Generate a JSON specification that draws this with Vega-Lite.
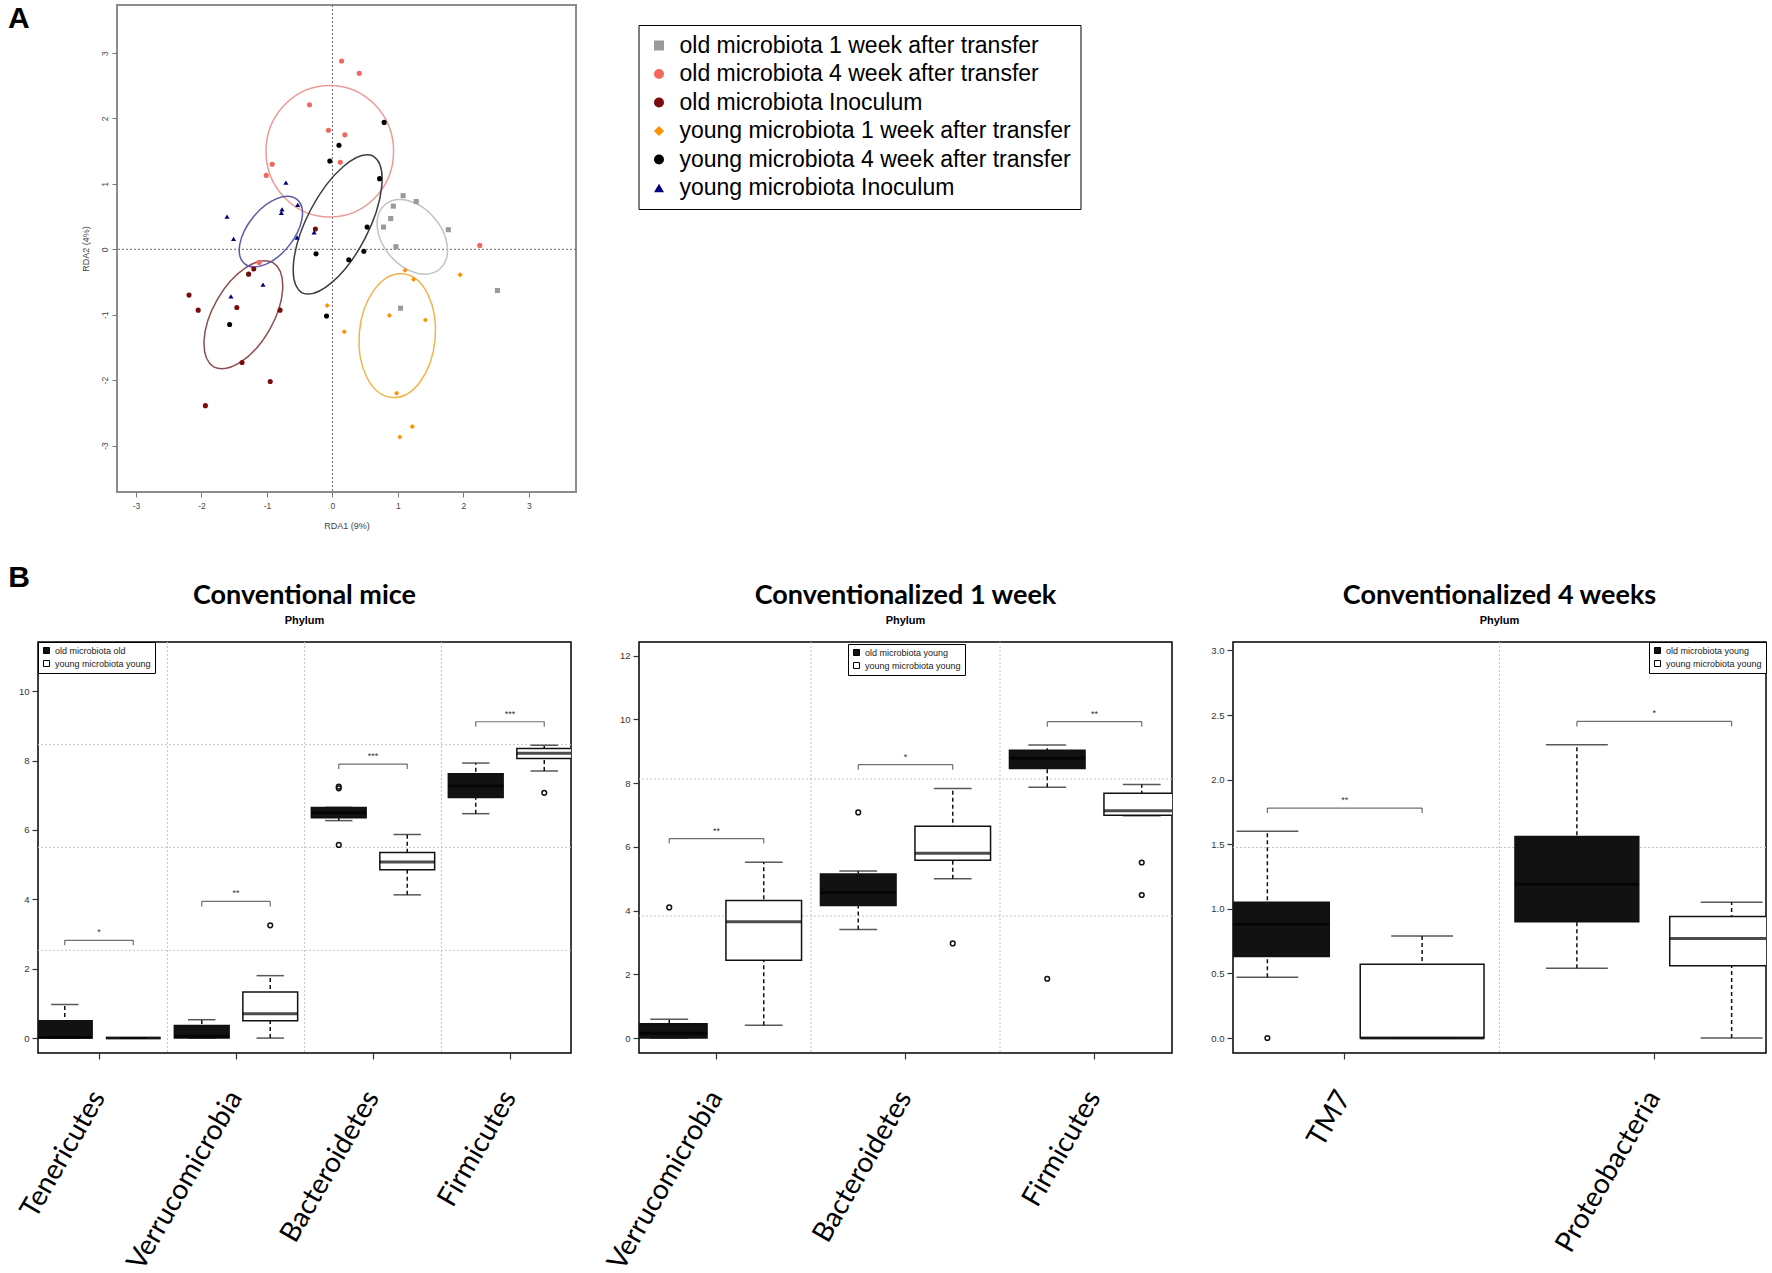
{
"$schema": "https://vega.github.io/schema/vega-lite/v6.json",
"background": "white",
"padding": {"left": 4, "top": 3, "right": 0, "bottom": 0},
"spacing": 30,
"config": {
  "view": {"stroke": null},
  "font": "Liberation Sans",
  "title": {"font": "Lato", "fontSize": 27, "fontWeight": "bold", "color": "black", "subtitleFont": "Liberation Sans", "subtitleFontSize": 11, "subtitleFontWeight": "bold", "subtitleColor": "black", "subtitlePadding": 5, "offset": 15, "anchor": "middle", "frame": "group"},
  "axis": {"labelFont": "Liberation Sans", "titleFont": "Liberation Sans", "grid": false},
  "legend": {"labelFont": "Liberation Sans"}
},
"datasets": {
  "rda": [
    {"group": "old microbiota 1 week after transfer", "rda1": 1.08, "rda2": 0.82},
    {"group": "old microbiota 1 week after transfer", "rda1": 1.28, "rda2": 0.73},
    {"group": "old microbiota 1 week after transfer", "rda1": 0.93, "rda2": 0.66},
    {"group": "old microbiota 1 week after transfer", "rda1": 0.89, "rda2": 0.47},
    {"group": "old microbiota 1 week after transfer", "rda1": 0.78, "rda2": 0.34},
    {"group": "old microbiota 1 week after transfer", "rda1": 1.77, "rda2": 0.30},
    {"group": "old microbiota 1 week after transfer", "rda1": 0.97, "rda2": 0.04},
    {"group": "old microbiota 1 week after transfer", "rda1": 2.52, "rda2": -0.63},
    {"group": "old microbiota 1 week after transfer", "rda1": 1.04, "rda2": -0.90},
    {"group": "old microbiota 4 week after transfer", "rda1": 0.14, "rda2": 2.88},
    {"group": "old microbiota 4 week after transfer", "rda1": 0.41, "rda2": 2.69},
    {"group": "old microbiota 4 week after transfer", "rda1": -0.35, "rda2": 2.21},
    {"group": "old microbiota 4 week after transfer", "rda1": -0.06, "rda2": 1.82},
    {"group": "old microbiota 4 week after transfer", "rda1": 0.19, "rda2": 1.75},
    {"group": "old microbiota 4 week after transfer", "rda1": 0.12, "rda2": 1.33},
    {"group": "old microbiota 4 week after transfer", "rda1": -0.92, "rda2": 1.30},
    {"group": "old microbiota 4 week after transfer", "rda1": -1.01, "rda2": 1.13},
    {"group": "old microbiota 4 week after transfer", "rda1": -1.12, "rda2": -0.20},
    {"group": "old microbiota 4 week after transfer", "rda1": 2.25, "rda2": 0.06},
    {"group": "old microbiota Inoculum", "rda1": -0.26, "rda2": 0.31},
    {"group": "old microbiota Inoculum", "rda1": -1.20, "rda2": -0.30},
    {"group": "old microbiota Inoculum", "rda1": -1.28, "rda2": -0.38},
    {"group": "old microbiota Inoculum", "rda1": -2.19, "rda2": -0.70},
    {"group": "old microbiota Inoculum", "rda1": -2.05, "rda2": -0.93},
    {"group": "old microbiota Inoculum", "rda1": -1.46, "rda2": -0.89},
    {"group": "old microbiota Inoculum", "rda1": -0.80, "rda2": -0.93},
    {"group": "old microbiota Inoculum", "rda1": -1.38, "rda2": -1.73},
    {"group": "old microbiota Inoculum", "rda1": -0.95, "rda2": -2.02},
    {"group": "old microbiota Inoculum", "rda1": -1.94, "rda2": -2.39},
    {"group": "young microbiota 1 week after transfer", "rda1": 1.11, "rda2": -0.32},
    {"group": "young microbiota 1 week after transfer", "rda1": 1.24, "rda2": -0.46},
    {"group": "young microbiota 1 week after transfer", "rda1": 1.95, "rda2": -0.39},
    {"group": "young microbiota 1 week after transfer", "rda1": -0.08, "rda2": -0.86},
    {"group": "young microbiota 1 week after transfer", "rda1": 0.87, "rda2": -1.01},
    {"group": "young microbiota 1 week after transfer", "rda1": 1.42, "rda2": -1.08},
    {"group": "young microbiota 1 week after transfer", "rda1": 0.18, "rda2": -1.26},
    {"group": "young microbiota 1 week after transfer", "rda1": 0.98, "rda2": -2.20},
    {"group": "young microbiota 1 week after transfer", "rda1": 1.22, "rda2": -2.71},
    {"group": "young microbiota 1 week after transfer", "rda1": 1.03, "rda2": -2.87},
    {"group": "young microbiota 4 week after transfer", "rda1": 0.79, "rda2": 1.94},
    {"group": "young microbiota 4 week after transfer", "rda1": 0.10, "rda2": 1.59},
    {"group": "young microbiota 4 week after transfer", "rda1": -0.04, "rda2": 1.35},
    {"group": "young microbiota 4 week after transfer", "rda1": 0.72, "rda2": 1.08},
    {"group": "young microbiota 4 week after transfer", "rda1": 0.53, "rda2": 0.34},
    {"group": "young microbiota 4 week after transfer", "rda1": -0.25, "rda2": -0.07},
    {"group": "young microbiota 4 week after transfer", "rda1": 0.25, "rda2": -0.16},
    {"group": "young microbiota 4 week after transfer", "rda1": 0.48, "rda2": -0.03},
    {"group": "young microbiota 4 week after transfer", "rda1": -0.09, "rda2": -1.02},
    {"group": "young microbiota 4 week after transfer", "rda1": -1.57, "rda2": -1.15},
    {"group": "young microbiota Inoculum", "rda1": -0.71, "rda2": 1.02},
    {"group": "young microbiota Inoculum", "rda1": -1.61, "rda2": 0.50},
    {"group": "young microbiota Inoculum", "rda1": -0.77, "rda2": 0.61},
    {"group": "young microbiota Inoculum", "rda1": -0.78, "rda2": 0.56},
    {"group": "young microbiota Inoculum", "rda1": -0.53, "rda2": 0.68},
    {"group": "young microbiota Inoculum", "rda1": -1.51, "rda2": 0.16},
    {"group": "young microbiota Inoculum", "rda1": -0.54, "rda2": 0.18},
    {"group": "young microbiota Inoculum", "rda1": -0.28, "rda2": 0.26},
    {"group": "young microbiota Inoculum", "rda1": -1.06, "rda2": -0.54},
    {"group": "young microbiota Inoculum", "rda1": -1.55, "rda2": -0.72}
  ],
  "ellipses": [
    {"group": "old microbiota 1 week after transfer", "cx": 1.22, "cy": 0.19},
    {"group": "old microbiota 4 week after transfer", "cx": -0.04, "cy": 1.50},
    {"group": "old microbiota Inoculum", "cx": -1.36, "cy": -1.00},
    {"group": "young microbiota 1 week after transfer", "cx": 0.99, "cy": -1.32},
    {"group": "young microbiota 4 week after transfer", "cx": 0.08, "cy": 0.38},
    {"group": "young microbiota Inoculum", "cx": -0.94, "cy": 0.27}
  ],
  "boxes": [
    {"panel": "Conventional mice", "phylum": "Tenericutes", "group": "old microbiota old", "lower": 0, "q1": 0, "median": 0.02, "q3": 0.5, "upper": 0.97},
    {"panel": "Conventional mice", "phylum": "Tenericutes", "group": "young microbiota young", "lower": 0, "q1": 0, "median": 0, "q3": 0, "upper": 0},
    {"panel": "Conventional mice", "phylum": "Verrucomicrobia", "group": "old microbiota old", "lower": 0, "q1": 0, "median": 0.05, "q3": 0.36, "upper": 0.53},
    {"panel": "Conventional mice", "phylum": "Verrucomicrobia", "group": "young microbiota young", "lower": 0, "q1": 0.5, "median": 0.7, "q3": 1.33, "upper": 1.8},
    {"panel": "Conventional mice", "phylum": "Bacteroidetes", "group": "old microbiota old", "lower": 6.27, "q1": 6.35, "median": 6.5, "q3": 6.65, "upper": 6.65},
    {"panel": "Conventional mice", "phylum": "Bacteroidetes", "group": "young microbiota young", "lower": 4.13, "q1": 4.85, "median": 5.08, "q3": 5.35, "upper": 5.87},
    {"panel": "Conventional mice", "phylum": "Firmicutes", "group": "old microbiota old", "lower": 6.47, "q1": 6.94, "median": 7.27, "q3": 7.62, "upper": 7.93},
    {"panel": "Conventional mice", "phylum": "Firmicutes", "group": "young microbiota young", "lower": 7.7, "q1": 8.06, "median": 8.21, "q3": 8.35, "upper": 8.44},
    {"panel": "Conventionalized 1 week", "phylum": "Verrucomicrobia", "group": "old microbiota young", "lower": 0, "q1": 0, "median": 0.15, "q3": 0.45, "upper": 0.59},
    {"panel": "Conventionalized 1 week", "phylum": "Verrucomicrobia", "group": "young microbiota young", "lower": 0.4, "q1": 2.44, "median": 3.65, "q3": 4.32, "upper": 5.52},
    {"panel": "Conventionalized 1 week", "phylum": "Bacteroidetes", "group": "old microbiota young", "lower": 3.41, "q1": 4.16, "median": 4.57, "q3": 5.15, "upper": 5.24},
    {"panel": "Conventionalized 1 week", "phylum": "Bacteroidetes", "group": "young microbiota young", "lower": 5.0, "q1": 5.58, "median": 5.8, "q3": 6.65, "upper": 7.83},
    {"panel": "Conventionalized 1 week", "phylum": "Firmicutes", "group": "old microbiota young", "lower": 7.87, "q1": 8.46, "median": 8.78, "q3": 9.03, "upper": 9.2},
    {"panel": "Conventionalized 1 week", "phylum": "Firmicutes", "group": "young microbiota young", "lower": 6.98, "q1": 6.99, "median": 7.13, "q3": 7.68, "upper": 7.96},
    {"panel": "Conventionalized 4 weeks", "phylum": "TM7", "group": "old microbiota young", "lower": 0.47, "q1": 0.63, "median": 0.88, "q3": 1.05, "upper": 1.6},
    {"panel": "Conventionalized 4 weeks", "phylum": "TM7", "group": "young microbiota young", "lower": 0, "q1": 0, "median": 0, "q3": 0.57, "upper": 0.79},
    {"panel": "Conventionalized 4 weeks", "phylum": "Proteobacteria", "group": "old microbiota young", "lower": 0.54, "q1": 0.9, "median": 1.19, "q3": 1.56, "upper": 2.27},
    {"panel": "Conventionalized 4 weeks", "phylum": "Proteobacteria", "group": "young microbiota young", "lower": 0, "q1": 0.56, "median": 0.77, "q3": 0.94, "upper": 1.05}
  ],
  "outliers": [
    {"panel": "Conventional mice", "phylum": "Verrucomicrobia", "group": "young microbiota young", "value": 3.25},
    {"panel": "Conventional mice", "phylum": "Bacteroidetes", "group": "old microbiota old", "value": 7.2},
    {"panel": "Conventional mice", "phylum": "Bacteroidetes", "group": "old microbiota old", "value": 7.25},
    {"panel": "Conventional mice", "phylum": "Bacteroidetes", "group": "old microbiota old", "value": 5.57},
    {"panel": "Conventional mice", "phylum": "Firmicutes", "group": "young microbiota young", "value": 7.07},
    {"panel": "Conventionalized 1 week", "phylum": "Verrucomicrobia", "group": "old microbiota young", "value": 4.1},
    {"panel": "Conventionalized 1 week", "phylum": "Bacteroidetes", "group": "old microbiota young", "value": 7.08},
    {"panel": "Conventionalized 1 week", "phylum": "Bacteroidetes", "group": "young microbiota young", "value": 2.97},
    {"panel": "Conventionalized 1 week", "phylum": "Firmicutes", "group": "old microbiota young", "value": 1.86},
    {"panel": "Conventionalized 1 week", "phylum": "Firmicutes", "group": "young microbiota young", "value": 5.51},
    {"panel": "Conventionalized 1 week", "phylum": "Firmicutes", "group": "young microbiota young", "value": 4.49},
    {"panel": "Conventionalized 4 weeks", "phylum": "TM7", "group": "old microbiota young", "value": 0}
  ],
  "brackets": [
    {"panel": "Conventional mice", "phylum": "Tenericutes", "h": 2.82, "label": "*"},
    {"panel": "Conventional mice", "phylum": "Verrucomicrobia", "h": 3.94, "label": "**"},
    {"panel": "Conventional mice", "phylum": "Bacteroidetes", "h": 7.90, "label": "***"},
    {"panel": "Conventional mice", "phylum": "Firmicutes", "h": 9.12, "label": "***"},
    {"panel": "Conventionalized 1 week", "phylum": "Verrucomicrobia", "h": 6.26, "label": "**"},
    {"panel": "Conventionalized 1 week", "phylum": "Bacteroidetes", "h": 8.58, "label": "*"},
    {"panel": "Conventionalized 1 week", "phylum": "Firmicutes", "h": 9.93, "label": "**"},
    {"panel": "Conventionalized 4 weeks", "phylum": "TM7", "h": 1.78, "label": "**"},
    {"panel": "Conventionalized 4 weeks", "phylum": "Proteobacteria", "h": 2.45, "label": "*"}
  ]
},
"vconcat": [
  {
    "title": {"text": "A", "orient": "top", "anchor": "start", "frame": "bounds", "align": "left", "baseline": "top", "fontSize": 30, "fontWeight": "bold", "font": "Liberation Sans", "offset": -29, "dx": -30, "dy": 1, "color": "black"},
    "spacing": 0,
    "hconcat": [
      {"width": 42, "height": 10, "data": {"values": []}, "mark": "point"},
      {
        "width": 459, "height": 487,
        "view": {"stroke": "#8c8c8c", "strokeWidth": 2},
        "layer": [
          {"data": {"values": [{}]}, "mark": {"type": "rule", "strokeDash": [2, 2], "color": "#666666", "strokeWidth": 1}, "encoding": {"x": {"datum": 0, "type": "quantitative"}}},
          {"data": {"values": [{}]}, "mark": {"type": "rule", "strokeDash": [2, 2], "color": "#666666", "strokeWidth": 1}, "encoding": {"y": {"datum": 0, "type": "quantitative"}}},
          {"data": {"name": "ellipses"}, "transform": [{"filter": "datum.group === 'old microbiota 1 week after transfer'"}], "mark": {"type": "point", "filled": false, "size": 4, "strokeWidth": 1.5, "opacity": 1, "color": "#c2c2c2", "shape": "M 27.4 32.1 A 42.2 29.1 49.5 0 1 -27.4 -32.1 A 42.2 29.1 49.5 0 1 27.4 32.1 Z"}, "encoding": {"x": {"field": "cx", "type": "quantitative"}, "y": {"field": "cy", "type": "quantitative"}}},
          {"data": {"name": "ellipses"}, "transform": [{"filter": "datum.group === 'old microbiota 4 week after transfer'"}], "mark": {"type": "point", "filled": false, "size": 4, "strokeWidth": 1.5, "opacity": 1, "color": "#eb9c98", "shape": "M 0 -65.8 A 65.8 63.8 -90 0 1 0 65.8 A 65.8 63.8 -90 0 1 0 -65.8 Z"}, "encoding": {"x": {"field": "cx", "type": "quantitative"}, "y": {"field": "cy", "type": "quantitative"}}},
          {"data": {"name": "ellipses"}, "transform": [{"filter": "datum.group === 'old microbiota Inoculum'"}], "mark": {"type": "point", "filled": false, "size": 4, "strokeWidth": 1.5, "opacity": 1, "color": "#8e4d4d", "shape": "M 29.7 -52.1 A 60 31.2 -60.3 0 1 -29.7 52.1 A 60 31.2 -60.3 0 1 29.7 -52.1 Z"}, "encoding": {"x": {"field": "cx", "type": "quantitative"}, "y": {"field": "cy", "type": "quantitative"}}},
          {"data": {"name": "ellipses"}, "transform": [{"filter": "datum.group === 'young microbiota 1 week after transfer'"}], "mark": {"type": "point", "filled": false, "size": 4, "strokeWidth": 1.5, "opacity": 1, "color": "#f0b44a", "shape": "M 5.4 -61.8 A 62 38 -85 0 1 -5.4 61.8 A 62 38 -85 0 1 5.4 -61.8 Z"}, "encoding": {"x": {"field": "cx", "type": "quantitative"}, "y": {"field": "cy", "type": "quantitative"}}},
          {"data": {"name": "ellipses"}, "transform": [{"filter": "datum.group === 'young microbiota 4 week after transfer'"}], "mark": {"type": "point", "filled": false, "size": 4, "strokeWidth": 1.5, "opacity": 1, "color": "#3c3c3c", "shape": "M 35.5 -68.4 A 77.1 31.7 -62.6 0 1 -35.5 68.4 A 77.1 31.7 -62.6 0 1 35.5 -68.4 Z"}, "encoding": {"x": {"field": "cx", "type": "quantitative"}, "y": {"field": "cy", "type": "quantitative"}}},
          {"data": {"name": "ellipses"}, "transform": [{"filter": "datum.group === 'young microbiota Inoculum'"}], "mark": {"type": "point", "filled": false, "size": 4, "strokeWidth": 1.5, "opacity": 1, "color": "#5a5aa8", "shape": "M 26.1 -32.2 A 41.4 22.9 -51 0 1 -26.1 32.2 A 41.4 22.9 -51 0 1 26.1 -32.2 Z"}, "encoding": {"x": {"field": "cx", "type": "quantitative"}, "y": {"field": "cy", "type": "quantitative"}}},
          {"data": {"name": "rda"}, "mark": {"type": "point", "filled": true, "opacity": 1, "size": 26},
           "encoding": {
             "x": {"field": "rda1", "type": "quantitative", "scale": {"domain": [-3.29, 3.72], "nice": false, "zero": false},
                   "axis": {"values": [-3, -2, -1, 0, 1, 2, 3], "labelExpr": "datum.value + ''", "title": "RDA1 (9%)", "titleFontSize": 9, "titleFontWeight": "normal", "titleColor": "#444444", "titlePadding": 12, "labelFontSize": 8.5, "labelColor": "#444444", "tickSize": 5, "tickColor": "#777777", "domain": false, "labelPadding": 4}},
             "y": {"field": "rda2", "type": "quantitative", "scale": {"domain": [-3.71, 3.735], "nice": false, "zero": false},
                   "axis": {"values": [-3, -2, -1, 0, 1, 2, 3], "labelExpr": "datum.value + ''", "title": "RDA2 (4%)", "titleFontSize": 9, "titleFontWeight": "normal", "titleColor": "#444444", "titlePadding": 10, "labelFontSize": 8.5, "labelColor": "#444444", "labelAngle": -90, "labelAlign": "center", "labelBaseline": "bottom", "tickSize": 5, "tickColor": "#777777", "domain": false, "labelPadding": 3}},
             "color": {"field": "group", "type": "nominal",
                       "scale": {"domain": ["old microbiota 1 week after transfer", "old microbiota 4 week after transfer", "old microbiota Inoculum", "young microbiota 1 week after transfer", "young microbiota 4 week after transfer", "young microbiota Inoculum"], "range": ["#9a9a9a", "#f4675f", "#7a0b0b", "#ff9100", "#000000", "#00007f"]},
                       "legend": {"title": null, "orient": "none", "legendX": 600.5, "legendY": 20, "strokeColor": "black", "fillColor": "white", "padding": 9, "labelFontSize": 23, "labelColor": "black", "labelOffset": 9, "rowPadding": 4.5, "labelLimit": 600, "symbolSize": 100,
                                  "encode": {"legend": {"strokeWidth": {"value": 1.5}}}}},
             "shape": {"field": "group", "type": "nominal", "scale": {"domain": ["old microbiota 1 week after transfer", "old microbiota 4 week after transfer", "old microbiota Inoculum", "young microbiota 1 week after transfer", "young microbiota 4 week after transfer", "young microbiota Inoculum"], "range": ["square", "circle", "circle", "diamond", "circle", "triangle-up"]},
                       "legend": {"title": null, "orient": "none", "legendX": 600.5, "legendY": 20, "strokeColor": "black", "fillColor": "white", "padding": 9, "labelFontSize": 23, "labelColor": "black", "labelOffset": 9, "rowPadding": 4.5, "labelLimit": 600, "symbolSize": 100,
                                  "encode": {"legend": {"strokeWidth": {"value": 1.5}}}}}
           }}
        ]
      }
    ]
  },
  {
    "title": {"text": "B", "orient": "top", "anchor": "start", "frame": "bounds", "align": "left", "baseline": "top", "fontSize": 30, "fontWeight": "bold", "font": "Liberation Sans", "offset": -29, "dx": 4, "dy": -17, "color": "black"},
    "spacing": 0,
    "resolve": {"scale": {"x": "independent", "y": "independent", "fill": "independent", "xOffset": "independent"}, "legend": {"fill": "independent"}},
    "hconcat": [
      {
        "width": 533, "height": 411,
        "view": {"stroke": "black", "strokeWidth": 1.5},
        "title": {"text": "Conventional mice", "subtitle": "Phylum"},
        "layer": [
          {"data": {"name": "brackets"}, "transform": [{"filter": "datum.panel === 'Conventional mice'"}], "mark": {"type": "rule", "clip": true, "strokeDash": [2, 2], "color": "#c4c4c4", "strokeWidth": 1},
           "encoding": {"x": {"field": "phylum", "type": "nominal", "sort": ["Tenericutes", "Verrucomicrobia", "Bacteroidetes", "Firmicutes"], "bandPosition": 0, "axis": {"bandPosition": 0.5}}}},
          {"data": {"values": [{}]}, "mark": {"type": "rule", "strokeDash": [2, 2], "color": "#c4c4c4", "strokeWidth": 1}, "encoding": {"y": {"datum": 2.53, "type": "quantitative"}}},
          {"data": {"values": [{}]}, "mark": {"type": "rule", "strokeDash": [2, 2], "color": "#c4c4c4", "strokeWidth": 1}, "encoding": {"y": {"datum": 5.5, "type": "quantitative"}}},
          {"data": {"values": [{}]}, "mark": {"type": "rule", "strokeDash": [2, 2], "color": "#c4c4c4", "strokeWidth": 1}, "encoding": {"y": {"datum": 8.46, "type": "quantitative"}}},
          {"data": {"name": "boxes"}, "transform": [{"filter": "datum.panel === 'Conventional mice'"}],
           "layer": [
             {"mark": {"type": "rule", "clip": true, "strokeDash": [4, 3], "strokeWidth": 1.5, "color": "#111111"},
              "encoding": {"x": {"field": "phylum", "type": "nominal", "sort": ["Tenericutes", "Verrucomicrobia", "Bacteroidetes", "Firmicutes"]}, "xOffset": {"field": "group", "type": "nominal", "sort": ["old microbiota old", "young microbiota young"]}, "y": {"field": "lower", "type": "quantitative"}, "y2": {"field": "upper"}}},
             {"mark": {"type": "tick", "clip": true, "orient": "horizontal", "size": 27.4, "thickness": 1.5, "color": "#111111"},
              "encoding": {"x": {"field": "phylum", "type": "nominal", "sort": ["Tenericutes", "Verrucomicrobia", "Bacteroidetes", "Firmicutes"]}, "xOffset": {"field": "group", "type": "nominal", "sort": ["old microbiota old", "young microbiota young"]}, "y": {"field": "lower", "type": "quantitative"}}},
             {"mark": {"type": "tick", "clip": true, "orient": "horizontal", "size": 27.4, "thickness": 1.5, "color": "#111111"},
              "encoding": {"x": {"field": "phylum", "type": "nominal", "sort": ["Tenericutes", "Verrucomicrobia", "Bacteroidetes", "Firmicutes"]}, "xOffset": {"field": "group", "type": "nominal", "sort": ["old microbiota old", "young microbiota young"]}, "y": {"field": "upper", "type": "quantitative"}}},
             {"mark": {"type": "bar", "clip": true, "stroke": "#111111", "strokeWidth": 1.5},
              "encoding": {
                "x": {"field": "phylum", "type": "nominal", "sort": ["Tenericutes", "Verrucomicrobia", "Bacteroidetes", "Firmicutes"], "scale": {"range": [-7.5, 540.5], "paddingInner": 0, "paddingOuter": 0},
                      "axis": {"title": null, "labelAngle": -60, "labelAlign": "right", "labelBaseline": "middle", "labelFont": "Lato", "labelFontSize": 28, "labelPadding": 34, "tickSize": 6, "domain": false, "labelColor": "black", "tickColor": "#333333", "tickWidth": 1.2, "labelLimit": 400}},
                "xOffset": {"field": "group", "type": "nominal", "sort": ["old microbiota old", "young microbiota young"], "scale": {"paddingInner": 0.2, "paddingOuter": 0.1}},
                "y": {"field": "q1", "type": "quantitative", "scale": {"domain": [-0.43, 11.42], "nice": false, "zero": false},
                      "axis": {"values": [0, 2, 4, 6, 8, 10], "title": null, "domain": false, "tickSize": 6, "labelFontSize": 9.5, "labelPadding": 3, "labelColor": "#333333", "tickColor": "#333333", "tickWidth": 1.2, "minExtent": 33}},
                "y2": {"field": "q3"},
                "fill": {"field": "group", "type": "nominal", "scale": {"domain": ["old microbiota old", "young microbiota young"], "range": ["#121212", "#ffffff"]},
                         "legend": {"title": null, "orient": "top-left", "offset": 0, "strokeColor": "black", "fillColor": "white", "padding": 4, "labelFontSize": 9, "labelColor": "#222222", "symbolType": "square", "symbolSize": 36, "symbolStrokeColor": "black", "symbolStrokeWidth": 1, "rowPadding": 2, "labelOffset": 4, "encode": {"legend": {"strokeWidth": {"value": 1.5}}}}}
              }},
             {"mark": {"type": "tick", "clip": true, "orient": "horizontal", "size": 54.8, "thickness": 3, "color": "black"},
              "encoding": {"x": {"field": "phylum", "type": "nominal", "sort": ["Tenericutes", "Verrucomicrobia", "Bacteroidetes", "Firmicutes"]}, "xOffset": {"field": "group", "type": "nominal", "sort": ["old microbiota old", "young microbiota young"]}, "y": {"field": "median", "type": "quantitative"}}}
           ]},
          {"data": {"name": "outliers"}, "transform": [{"filter": "datum.panel === 'Conventional mice'"}], "mark": {"type": "point", "shape": "circle", "filled": false, "size": 22, "strokeWidth": 1.5, "color": "#111111", "opacity": 1},
           "encoding": {"x": {"field": "phylum", "type": "nominal", "sort": ["Tenericutes", "Verrucomicrobia", "Bacteroidetes", "Firmicutes"]}, "xOffset": {"field": "group", "type": "nominal", "sort": ["old microbiota old", "young microbiota young"]}, "y": {"field": "value", "type": "quantitative"}}},
          {"data": {"name": "brackets"}, "transform": [{"filter": "datum.panel === 'Conventional mice'"}],
           "layer": [
             {"mark": {"type": "tick", "orient": "horizontal", "size": 68.5, "thickness": 1.2, "color": "#333333"},
              "encoding": {"x": {"field": "phylum", "type": "nominal", "sort": ["Tenericutes", "Verrucomicrobia", "Bacteroidetes", "Firmicutes"]}, "y": {"field": "h", "type": "quantitative"}}},
             {"mark": {"type": "tick", "orient": "vertical", "size": 5, "thickness": 1.2, "color": "#333333", "yOffset": 2.5},
              "encoding": {"x": {"field": "phylum", "type": "nominal", "sort": ["Tenericutes", "Verrucomicrobia", "Bacteroidetes", "Firmicutes"]}, "xOffset": {"datum": "old microbiota old", "type": "nominal"}, "y": {"field": "h", "type": "quantitative"}}},
             {"mark": {"type": "tick", "orient": "vertical", "size": 5, "thickness": 1.2, "color": "#333333", "yOffset": 2.5},
              "encoding": {"x": {"field": "phylum", "type": "nominal", "sort": ["Tenericutes", "Verrucomicrobia", "Bacteroidetes", "Firmicutes"]}, "xOffset": {"datum": "young microbiota young", "type": "nominal"}, "y": {"field": "h", "type": "quantitative"}}},
             {"mark": {"type": "text", "fontSize": 9, "baseline": "bottom", "dy": -3, "color": "#333333"},
              "encoding": {"x": {"field": "phylum", "type": "nominal", "sort": ["Tenericutes", "Verrucomicrobia", "Bacteroidetes", "Firmicutes"]}, "y": {"field": "h", "type": "quantitative"}, "text": {"field": "label"}}}
           ]}
        ]
      },
      {
        "width": 533, "height": 411,
        "view": {"stroke": "black", "strokeWidth": 1.5},
        "title": {"text": "Conventionalized 1 week", "subtitle": "Phylum"},
        "layer": [
          {"data": {"name": "brackets"}, "transform": [{"filter": "datum.panel === 'Conventionalized 1 week'"}], "mark": {"type": "rule", "clip": true, "strokeDash": [2, 2], "color": "#c4c4c4", "strokeWidth": 1},
           "encoding": {"x": {"field": "phylum", "type": "nominal", "sort": ["Verrucomicrobia", "Bacteroidetes", "Firmicutes"], "bandPosition": 0, "axis": {"bandPosition": 0.5}}}},
          {"data": {"values": [{}]}, "mark": {"type": "rule", "strokeDash": [2, 2], "color": "#c4c4c4", "strokeWidth": 1}, "encoding": {"y": {"datum": 3.83, "type": "quantitative"}}},
          {"data": {"values": [{}]}, "mark": {"type": "rule", "strokeDash": [2, 2], "color": "#c4c4c4", "strokeWidth": 1}, "encoding": {"y": {"datum": 8.13, "type": "quantitative"}}},
          {"data": {"name": "boxes"}, "transform": [{"filter": "datum.panel === 'Conventionalized 1 week'"}],
           "layer": [
             {"mark": {"type": "rule", "clip": true, "strokeDash": [4, 3], "strokeWidth": 1.5, "color": "#111111"},
              "encoding": {"x": {"field": "phylum", "type": "nominal", "sort": ["Verrucomicrobia", "Bacteroidetes", "Firmicutes"]}, "xOffset": {"field": "group", "type": "nominal", "sort": ["old microbiota young", "young microbiota young"]}, "y": {"field": "lower", "type": "quantitative"}, "y2": {"field": "upper"}}},
             {"mark": {"type": "tick", "clip": true, "orient": "horizontal", "size": 37.8, "thickness": 1.5, "color": "#111111"},
              "encoding": {"x": {"field": "phylum", "type": "nominal", "sort": ["Verrucomicrobia", "Bacteroidetes", "Firmicutes"]}, "xOffset": {"field": "group", "type": "nominal", "sort": ["old microbiota young", "young microbiota young"]}, "y": {"field": "lower", "type": "quantitative"}}},
             {"mark": {"type": "tick", "clip": true, "orient": "horizontal", "size": 37.8, "thickness": 1.5, "color": "#111111"},
              "encoding": {"x": {"field": "phylum", "type": "nominal", "sort": ["Verrucomicrobia", "Bacteroidetes", "Firmicutes"]}, "xOffset": {"field": "group", "type": "nominal", "sort": ["old microbiota young", "young microbiota young"]}, "y": {"field": "upper", "type": "quantitative"}}},
             {"mark": {"type": "bar", "clip": true, "stroke": "#111111", "strokeWidth": 1.5},
              "encoding": {
                "x": {"field": "phylum", "type": "nominal", "sort": ["Verrucomicrobia", "Bacteroidetes", "Firmicutes"], "scale": {"range": [-17, 550], "paddingInner": 0, "paddingOuter": 0},
                      "axis": {"title": null, "labelAngle": -60, "labelAlign": "right", "labelBaseline": "middle", "labelFont": "Lato", "labelFontSize": 28, "labelPadding": 34, "tickSize": 6, "domain": false, "labelColor": "black", "tickColor": "#333333", "tickWidth": 1.2, "labelLimit": 400}},
                "xOffset": {"field": "group", "type": "nominal", "sort": ["old microbiota young", "young microbiota young"], "scale": {"paddingInner": 0.2, "paddingOuter": 0.1}},
                "y": {"field": "q1", "type": "quantitative", "scale": {"domain": [-0.47, 12.43], "nice": false, "zero": false},
                      "axis": {"values": [0, 2, 4, 6, 8, 10, 12], "title": null, "domain": false, "tickSize": 6, "labelFontSize": 9.5, "labelPadding": 3, "labelColor": "#333333", "tickColor": "#333333", "tickWidth": 1.2, "minExtent": 51}},
                "y2": {"field": "q3"},
                "fill": {"field": "group", "type": "nominal", "scale": {"domain": ["old microbiota young", "young microbiota young"], "range": ["#121212", "#ffffff"]},
                         "legend": {"title": null, "orient": "none", "legendX": 209, "legendY": 2, "strokeColor": "black", "fillColor": "white", "padding": 4, "labelFontSize": 9, "labelColor": "#222222", "symbolType": "square", "symbolSize": 36, "symbolStrokeColor": "black", "symbolStrokeWidth": 1, "rowPadding": 2, "labelOffset": 4, "encode": {"legend": {"strokeWidth": {"value": 1.5}}}}}
              }},
             {"mark": {"type": "tick", "clip": true, "orient": "horizontal", "size": 75.6, "thickness": 3, "color": "black"},
              "encoding": {"x": {"field": "phylum", "type": "nominal", "sort": ["Verrucomicrobia", "Bacteroidetes", "Firmicutes"]}, "xOffset": {"field": "group", "type": "nominal", "sort": ["old microbiota young", "young microbiota young"]}, "y": {"field": "median", "type": "quantitative"}}}
           ]},
          {"data": {"name": "outliers"}, "transform": [{"filter": "datum.panel === 'Conventionalized 1 week'"}], "mark": {"type": "point", "shape": "circle", "filled": false, "size": 22, "strokeWidth": 1.5, "color": "#111111", "opacity": 1},
           "encoding": {"x": {"field": "phylum", "type": "nominal", "sort": ["Verrucomicrobia", "Bacteroidetes", "Firmicutes"]}, "xOffset": {"field": "group", "type": "nominal", "sort": ["old microbiota young", "young microbiota young"]}, "y": {"field": "value", "type": "quantitative"}}},
          {"data": {"name": "brackets"}, "transform": [{"filter": "datum.panel === 'Conventionalized 1 week'"}],
           "layer": [
             {"mark": {"type": "tick", "orient": "horizontal", "size": 94.5, "thickness": 1.2, "color": "#333333"},
              "encoding": {"x": {"field": "phylum", "type": "nominal", "sort": ["Verrucomicrobia", "Bacteroidetes", "Firmicutes"]}, "y": {"field": "h", "type": "quantitative"}}},
             {"mark": {"type": "tick", "orient": "vertical", "size": 5, "thickness": 1.2, "color": "#333333", "yOffset": 2.5},
              "encoding": {"x": {"field": "phylum", "type": "nominal", "sort": ["Verrucomicrobia", "Bacteroidetes", "Firmicutes"]}, "xOffset": {"datum": "old microbiota young", "type": "nominal"}, "y": {"field": "h", "type": "quantitative"}}},
             {"mark": {"type": "tick", "orient": "vertical", "size": 5, "thickness": 1.2, "color": "#333333", "yOffset": 2.5},
              "encoding": {"x": {"field": "phylum", "type": "nominal", "sort": ["Verrucomicrobia", "Bacteroidetes", "Firmicutes"]}, "xOffset": {"datum": "young microbiota young", "type": "nominal"}, "y": {"field": "h", "type": "quantitative"}}},
             {"mark": {"type": "text", "fontSize": 9, "baseline": "bottom", "dy": -3, "color": "#333333"},
              "encoding": {"x": {"field": "phylum", "type": "nominal", "sort": ["Verrucomicrobia", "Bacteroidetes", "Firmicutes"]}, "y": {"field": "h", "type": "quantitative"}, "text": {"field": "label"}}}
           ]}
        ]
      },
      {
        "width": 533, "height": 411,
        "view": {"stroke": "black", "strokeWidth": 1.5},
        "title": {"text": "Conventionalized 4 weeks", "subtitle": "Phylum"},
        "layer": [
          {"data": {"name": "brackets"}, "transform": [{"filter": "datum.panel === 'Conventionalized 4 weeks'"}], "mark": {"type": "rule", "clip": true, "strokeDash": [2, 2], "color": "#c4c4c4", "strokeWidth": 1},
           "encoding": {"x": {"field": "phylum", "type": "nominal", "sort": ["TM7", "Proteobacteria"], "bandPosition": 0, "axis": {"bandPosition": 0.5}}}},
          {"data": {"values": [{}]}, "mark": {"type": "rule", "strokeDash": [2, 2], "color": "#c4c4c4", "strokeWidth": 1}, "encoding": {"y": {"datum": 1.4745, "type": "quantitative"}}},
          {"data": {"name": "boxes"}, "transform": [{"filter": "datum.panel === 'Conventionalized 4 weeks'"}],
           "layer": [
             {"mark": {"type": "rule", "clip": true, "strokeDash": [4, 3], "strokeWidth": 1.5, "color": "#111111"},
              "encoding": {"x": {"field": "phylum", "type": "nominal", "sort": ["TM7", "Proteobacteria"]}, "xOffset": {"field": "group", "type": "nominal", "sort": ["old microbiota young", "young microbiota young"]}, "y": {"field": "lower", "type": "quantitative"}, "y2": {"field": "upper"}}},
             {"mark": {"type": "tick", "clip": true, "orient": "horizontal", "size": 61.9, "thickness": 1.5, "color": "#111111"},
              "encoding": {"x": {"field": "phylum", "type": "nominal", "sort": ["TM7", "Proteobacteria"]}, "xOffset": {"field": "group", "type": "nominal", "sort": ["old microbiota young", "young microbiota young"]}, "y": {"field": "lower", "type": "quantitative"}}},
             {"mark": {"type": "tick", "clip": true, "orient": "horizontal", "size": 61.9, "thickness": 1.5, "color": "#111111"},
              "encoding": {"x": {"field": "phylum", "type": "nominal", "sort": ["TM7", "Proteobacteria"]}, "xOffset": {"field": "group", "type": "nominal", "sort": ["old microbiota young", "young microbiota young"]}, "y": {"field": "upper", "type": "quantitative"}}},
             {"mark": {"type": "bar", "clip": true, "stroke": "#111111", "strokeWidth": 1.5},
              "encoding": {
                "x": {"field": "phylum", "type": "nominal", "sort": ["TM7", "Proteobacteria"], "scale": {"range": [-43, 576], "paddingInner": 0, "paddingOuter": 0},
                      "axis": {"title": null, "labelAngle": -60, "labelAlign": "right", "labelBaseline": "middle", "labelFont": "Lato", "labelFontSize": 28, "labelPadding": 34, "tickSize": 6, "domain": false, "labelColor": "black", "tickColor": "#333333", "tickWidth": 1.2, "labelLimit": 400}},
                "xOffset": {"field": "group", "type": "nominal", "sort": ["old microbiota young", "young microbiota young"], "scale": {"paddingInner": 0.2, "paddingOuter": 0.1}},
                "y": {"field": "q1", "type": "quantitative", "scale": {"domain": [-0.116, 3.065], "nice": false, "zero": false},
                      "axis": {"values": [0, 0.5, 1, 1.5, 2, 2.5, 3], "format": ".1f", "title": null, "domain": false, "tickSize": 6, "labelFontSize": 9.5, "labelPadding": 3, "labelColor": "#333333", "tickColor": "#333333", "tickWidth": 1.2, "minExtent": 25}},
                "y2": {"field": "q3"},
                "fill": {"field": "group", "type": "nominal", "scale": {"domain": ["old microbiota young", "young microbiota young"], "range": ["#121212", "#ffffff"]},
                         "legend": {"title": null, "orient": "top-right", "offset": 0, "strokeColor": "black", "fillColor": "white", "padding": 4, "labelFontSize": 9, "labelColor": "#222222", "symbolType": "square", "symbolSize": 36, "symbolStrokeColor": "black", "symbolStrokeWidth": 1, "rowPadding": 2, "labelOffset": 4, "encode": {"legend": {"strokeWidth": {"value": 1.5}}}}}
              }},
             {"mark": {"type": "tick", "clip": true, "orient": "horizontal", "size": 123.8, "thickness": 3, "color": "black"},
              "encoding": {"x": {"field": "phylum", "type": "nominal", "sort": ["TM7", "Proteobacteria"]}, "xOffset": {"field": "group", "type": "nominal", "sort": ["old microbiota young", "young microbiota young"]}, "y": {"field": "median", "type": "quantitative"}}}
           ]},
          {"data": {"name": "outliers"}, "transform": [{"filter": "datum.panel === 'Conventionalized 4 weeks'"}], "mark": {"type": "point", "shape": "circle", "filled": false, "size": 22, "strokeWidth": 1.5, "color": "#111111", "opacity": 1},
           "encoding": {"x": {"field": "phylum", "type": "nominal", "sort": ["TM7", "Proteobacteria"]}, "xOffset": {"field": "group", "type": "nominal", "sort": ["old microbiota young", "young microbiota young"]}, "y": {"field": "value", "type": "quantitative"}}},
          {"data": {"name": "brackets"}, "transform": [{"filter": "datum.panel === 'Conventionalized 4 weeks'"}],
           "layer": [
             {"mark": {"type": "tick", "orient": "horizontal", "size": 154.8, "thickness": 1.2, "color": "#333333"},
              "encoding": {"x": {"field": "phylum", "type": "nominal", "sort": ["TM7", "Proteobacteria"]}, "y": {"field": "h", "type": "quantitative"}}},
             {"mark": {"type": "tick", "orient": "vertical", "size": 5, "thickness": 1.2, "color": "#333333", "yOffset": 2.5},
              "encoding": {"x": {"field": "phylum", "type": "nominal", "sort": ["TM7", "Proteobacteria"]}, "xOffset": {"datum": "old microbiota young", "type": "nominal"}, "y": {"field": "h", "type": "quantitative"}}},
             {"mark": {"type": "tick", "orient": "vertical", "size": 5, "thickness": 1.2, "color": "#333333", "yOffset": 2.5},
              "encoding": {"x": {"field": "phylum", "type": "nominal", "sort": ["TM7", "Proteobacteria"]}, "xOffset": {"datum": "young microbiota young", "type": "nominal"}, "y": {"field": "h", "type": "quantitative"}}},
             {"mark": {"type": "text", "fontSize": 9, "baseline": "bottom", "dy": -3, "color": "#333333"},
              "encoding": {"x": {"field": "phylum", "type": "nominal", "sort": ["TM7", "Proteobacteria"]}, "y": {"field": "h", "type": "quantitative"}, "text": {"field": "label"}}}
           ]}
        ]
      }
    ]
  }
]
}
